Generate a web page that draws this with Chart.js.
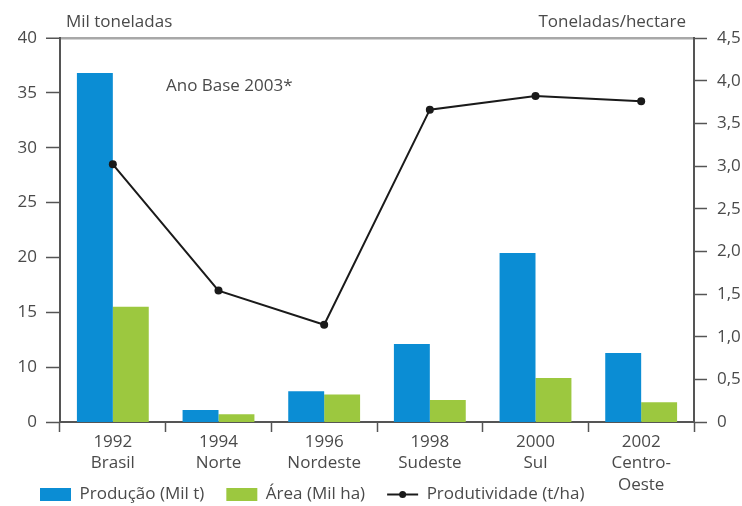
<!DOCTYPE html>
<html lang="pt">
<head>
    <meta charset="UTF-8">
    <title>Produção, área e produtividade</title>
    <style>
        body {
            margin: 0;
            padding: 0;
            background-color: white;
        }
        .chart-box {
            width: 742px;
            height: 506px;
        }
    </style>
    <script src="https://cdn.jsdelivr.net/npm/chart.js"></script>
</head>
<body>
    <div class="chart-box">
        <canvas id="prodChart"></canvas>
    </div>

    <script>
        // Data
        const categories = [['1992', 'Brasil'], ['1994', 'Norte'], ['1996', 'Nordeste'], ['1998', 'Sudeste'], ['2000', 'Sul'], ['2002', 'Centro-', 'Oeste']];
        const producao = [36.8, 6.1, 7.8, 12.1, 20.4, 11.3];      // Mil t
        const area = [15.5, 5.7, 7.5, 7.0, 9.0, 6.8];             // Mil ha
        const produtividade = [3.02, 1.54, 1.14, 3.66, 3.82, 3.76]; // t/ha
        const leftTicks = ['0', '10', '15', '20', '25', '30', '35', '40'];
        const rightTicks = ['0', '0,5', '1,0', '1,5', '2,0', '2,5', '3,0', '3,5', '4,0', '4,5'];

        const textColor = '#4a4a4a';
        const axisColor = '#555';
        const baseFont = { family: 'Open Sans', size: 17 };
        const legendPad = 22;

        // move the legend up into the free space under the axis labels
        // (hit boxes get placed by the legend itself in afterUpdate)
        const legendPlace = {
            id: 'legendPlace',
            afterLayout(chart) {
                const lg = chart.legend;
                lg.top = 494.5 - legendPad - 8.5;
                lg.bottom = chart.height;
                lg.height = lg.bottom - lg.top;
            }
        };

        // axis units, the "Ano Base" note and the dot of the line legend
        const extraText = {
            id: 'extraText',
            afterDraw(chart) {
                const ctx = chart.ctx;
                ctx.save();
                ctx.font = '17px "Open Sans"';
                ctx.fillStyle = textColor;
                ctx.textBaseline = 'middle';
                ctx.textAlign = 'left';
                ctx.fillText('Mil toneladas', 66, 22);
                ctx.fillText('Ano Base 2003*', 166, 86);
                ctx.textAlign = 'right';
                ctx.fillText('Toneladas/hectare', 686, 22);

                const box = chart.legend.legendHitBoxes[2];
                if (box) {
                    ctx.fillStyle = '#1a1a1a';
                    ctx.beginPath();
                    ctx.arc(box.left + 15.5, box.top + 8.5, 3.5, 0, Math.PI * 2);
                    ctx.fill();
                }
                ctx.restore();
            }
        };

        new Chart(document.getElementById('prodChart'), {
            type: 'bar',
            data: {
                labels: categories,
                datasets: [
                    {
                        label: 'Produção (Mil t)',
                        data: producao,
                        backgroundColor: '#0b8dd4',
                        yAxisID: 'y',
                        order: 2,
                        categoryPercentage: 0.68,
                        barPercentage: 1.0
                    },
                    {
                        label: 'Área (Mil ha)',
                        data: area,
                        backgroundColor: '#9cc83f',
                        yAxisID: 'y',
                        order: 2,
                        categoryPercentage: 0.68,
                        barPercentage: 1.0
                    },
                    {
                        label: 'Produtividade (t/ha)',
                        data: produtividade,
                        type: 'line',
                        yAxisID: 'y1',
                        order: 1,
                        borderColor: '#1a1a1a',
                        backgroundColor: '#1a1a1a',
                        borderWidth: 2,
                        pointRadius: 4,
                        pointBackgroundColor: '#1a1a1a',
                        pointBorderWidth: 0,
                        tension: 0
                    }
                ]
            },
            options: {
                responsive: true,
                maintainAspectRatio: false,
                animation: false,
                layout: {
                    padding: { top: 38, left: 18, right: 0, bottom: 0 }
                },
                scales: {
                    x: {
                        afterFit(scale) { scale.height = 71; },
                        grid: {
                            drawOnChartArea: false,
                            tickLength: 10,
                            tickColor: axisColor,
                            tickWidth: 1.5
                        },
                        border: { color: axisColor, width: 2 },
                        ticks: {
                            color: textColor,
                            font: { family: 'Open Sans', size: 17, lineHeight: 1.24 },
                            padding: 0,
                            maxRotation: 0
                        }
                    },
                    y: {
                        position: 'left',
                        min: 5,
                        max: 40,
                        afterFit(scale) { scale.width = 42; },
                        grid: {
                            color: (c) => c.tick && c.tick.value === 40 ? '#a8a8a8' : 'rgba(0,0,0,0)',
                            lineWidth: (c) => c.tick && c.tick.value === 40 ? 2.5 : 1,
                            tickColor: axisColor,
                            tickWidth: 1.5,
                            tickLength: 14
                        },
                        border: { color: axisColor, width: 2 },
                        ticks: {
                            stepSize: 5,
                            color: textColor,
                            font: baseFont,
                            padding: 9,
                            callback: (value, index) => leftTicks[index]
                        }
                    },
                    y1: {
                        position: 'right',
                        min: 0,
                        max: 4.5,
                        afterFit(scale) { scale.width = 48; },
                        grid: {
                            drawOnChartArea: false,
                            tickColor: axisColor,
                            tickWidth: 1.5,
                            tickLength: 13
                        },
                        border: { color: axisColor, width: 2 },
                        ticks: {
                            stepSize: 0.5,
                            color: textColor,
                            font: baseFont,
                            padding: 10,
                            callback: (value, index) => rightTicks[index]
                        }
                    }
                },
                plugins: {
                    tooltip: { enabled: false },
                    legend: {
                        position: 'bottom',
                        align: 'start',
                        maxHeight: 13,
                        labels: {
                            color: textColor,
                            font: baseFont,
                            padding: legendPad,
                            usePointStyle: true,
                            pointStyleWidth: 31,
                            boxHeight: 13,
                            sort: (a, b) => a.datasetIndex - b.datasetIndex,
                            generateLabels(chart) {
                                const items = Chart.defaults.plugins.legend.labels.generateLabels(chart);
                                items.forEach((item) => {
                                    if (item.datasetIndex < 2) {
                                        item.pointStyle = 'rect';
                                        item.lineWidth = 0;
                                        item.strokeStyle = item.fillStyle;
                                    } else {
                                        item.pointStyle = 'line';
                                        item.lineWidth = 2;
                                        item.strokeStyle = '#1a1a1a';
                                    }
                                });
                                return items;
                            }
                        }
                    }
                }
            },
            plugins: [legendPlace, extraText]
        });
    </script>
</body>
</html>
